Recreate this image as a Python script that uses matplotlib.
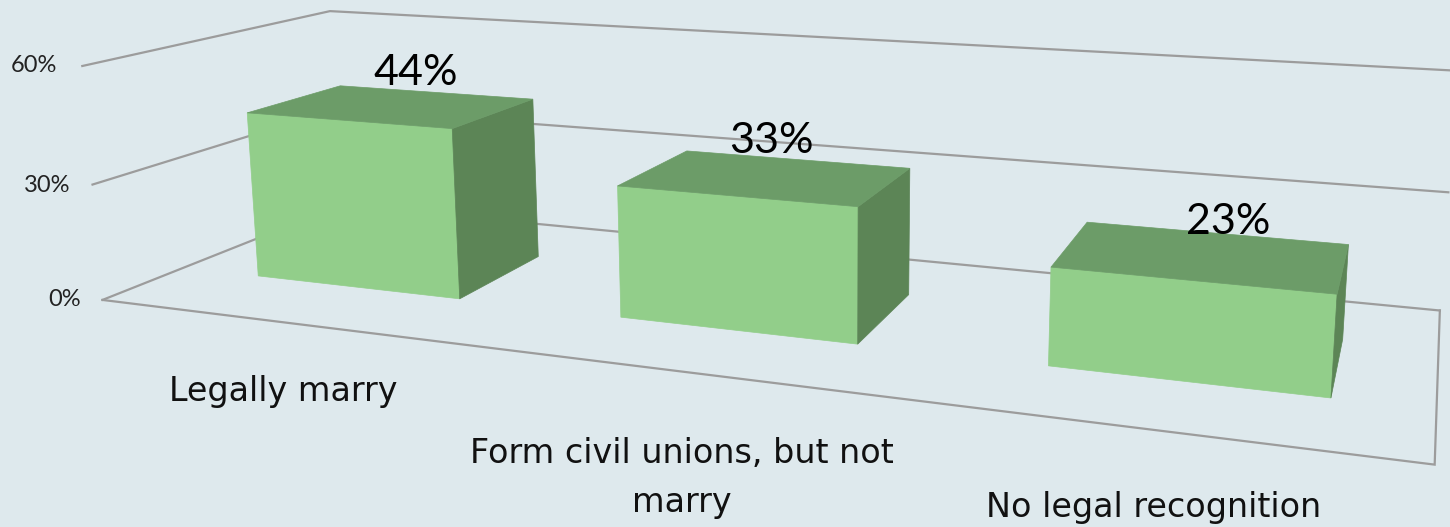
import matplotlib.pyplot as plt
import numpy as np
from matplotlib.patches import Polygon

# Chart data
categories = ["Legally marry", "Form civil unions, but not\nmarry", "No legal recognition"]
values = [44, 33, 23]
value_labels = ["44%", "33%", "23%"]
ticks = [0, 30, 60]
tick_labels = ["0%", "30%", "60%"]

BG = "#DEE9ED"
GRID = "#9C9C9C"
FRONT = "#92CE8A"
TOP = "#6C9C68"
SIDE = "#5C8556"

# Camera calibration: chart space (category, depth, value) -> picture pixels
chart_pts = np.array([(0, 0, 0), (3, 0, 0), (0, 1, 0), (3, 1, 0), (0, 0, 60),
                      (0, 1, 60), (3, 1, 60), (0, 0, 30), (0, 1, 30), (3, 1, 30)], float)
pixel_pts = np.array([(105, 299), (1435, 464), (339, 205), (1440, 311), (80, 67),
                      (333, 10), (1456, 70), (92, 185), (335, 110), (1449, 193)], float)


def fit_camera(world, pix):
    A, b = [], []
    for (x, y, z), (u, v) in zip(world, pix):
        A.append([x, y, z, 1, 0, 0, 0, 0, -u * x, -u * y, -u * z])
        b.append(u)
        A.append([0, 0, 0, 0, x, y, z, 1, -v * x, -v * y, -v * z])
        b.append(v)
    p = np.linalg.lstsq(np.array(A), np.array(b), rcond=None)[0]
    return np.append(p, 1).reshape(3, 4)


P = fit_camera(chart_pts, pixel_pts)


def project(x, d, v):
    q = P @ np.array([x, d, v, 1.0])
    return q[:2] / q[2]


fig = plt.figure(figsize=(14.5, 5.27), dpi=100, facecolor=BG)
ax = fig.add_axes([0, 0, 1, 1])
ax.set_xlim(0, 1450)
ax.set_ylim(527, 0)
ax.axis("off")

# Walls and floor outline
for t in ticks:
    line = np.array([project(0, 0, t), project(0, 1, t), project(3, 1, t)])
    ax.plot(line[:, 0], line[:, 1], color=GRID, lw=1.6, zorder=1, solid_joinstyle="miter")
floor = np.array([project(0, 0, 0), project(3, 0, 0), project(3, 1, 0)])
ax.plot(floor[:, 0], floor[:, 1], color=GRID, lw=1.6, zorder=1, solid_joinstyle="miter")

# Bars
for i, val in enumerate(values):
    x0, x1 = i + 0.225, i + 0.80
    d0, d1 = 0.30, 0.70
    faces = [
        ([(x0, d0, 0), (x1, d0, 0), (x1, d0, val), (x0, d0, val)], FRONT),
        ([(x1, d0, 0), (x1, d1, 0), (x1, d1, val), (x1, d0, val)], SIDE),
        ([(x0, d0, val), (x1, d0, val), (x1, d1, val), (x0, d1, val)], TOP),
    ]
    for corners, color in faces:
        ax.add_patch(Polygon([project(*c) for c in corners], closed=True,
                             facecolor=color, edgecolor=color, lw=0.5, zorder=2))

# Value labels
label_pos = [(416, 85), (771, 153), (1228, 234)]
for (lx, ly), txt in zip(label_pos, value_labels):
    ax.text(lx, ly, txt, fontsize=31, family="Lato", color="black",
            ha="center", va="baseline", zorder=3)

# Tick labels
tick_pos = [(81, 300), (70, 185), (57, 66)]
for (lx, ly), txt in zip(tick_pos, tick_labels):
    ax.text(lx, ly, txt, fontsize=17, family="Lato", color="#222222",
            ha="right", va="center", zorder=3)

# Category labels
cat_pos = [(283, 392), (682, 478), (1154, 507)]
for (lx, ly), txt in zip(cat_pos, categories):
    ax.text(lx, ly, txt, fontsize=24, family="DejaVu Sans", color="#111111",
            ha="center", va="center", linespacing=1.6, zorder=3)

fig.savefig("out.png", dpi=100, facecolor=BG)
